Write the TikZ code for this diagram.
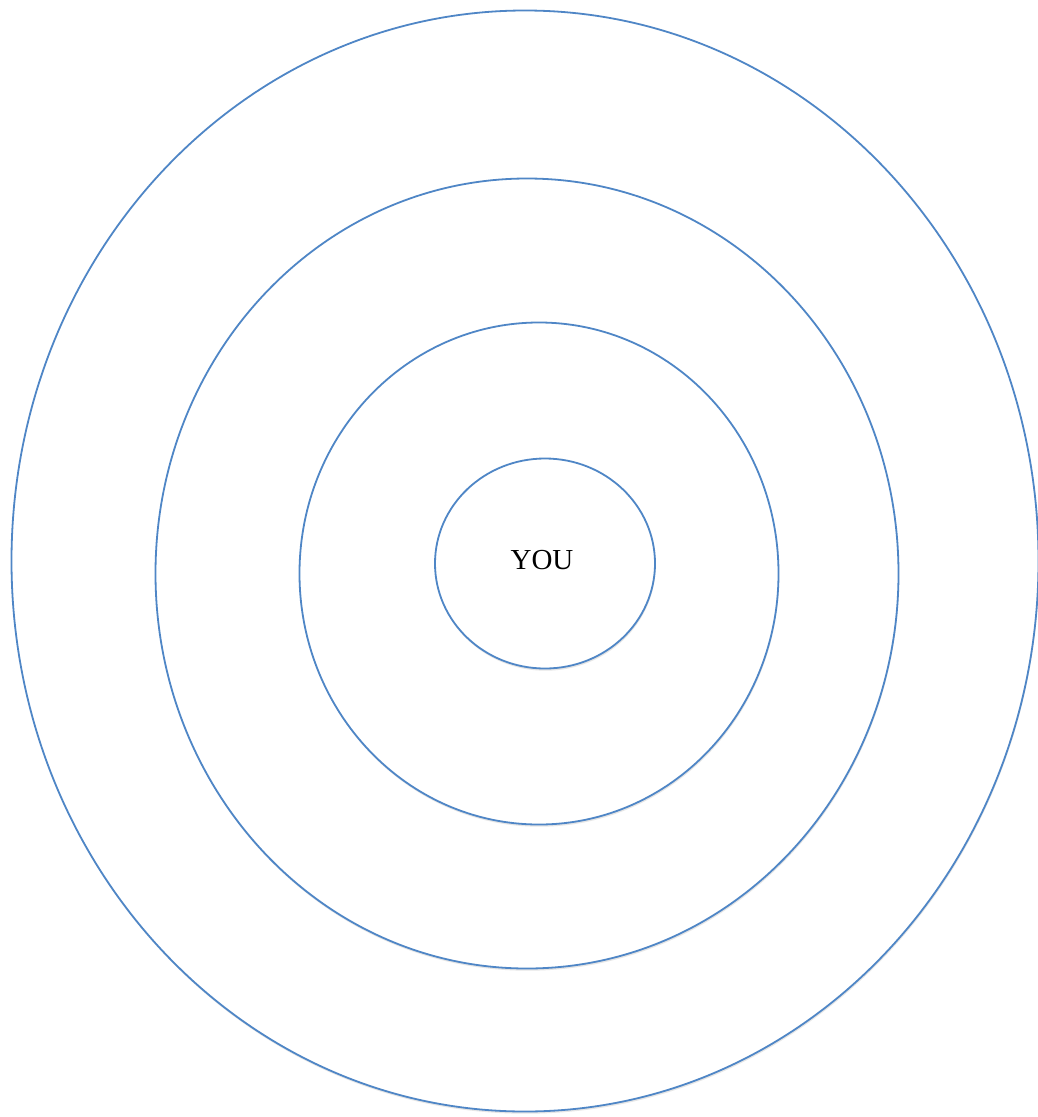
\documentclass[tikz,border=0pt]{standalone}
\usepackage{fontspec}
\setmainfont{Liberation Serif}
\usetikzlibrary{shapes.geometric,shadows}
\definecolor{RingBlue}{HTML}{4F86C6}

\begin{document}
\begin{tikzpicture}[
  x=1pt,y=-1pt,
  ring/.style={ellipse,draw=RingBlue,line width=1.8pt,fill=white,inner sep=0pt,
    drop shadow={shadow xshift=0.6pt,shadow yshift=-2.2pt,opacity=0.22,fill=black!45}},
]
\useasboundingbox (0,0) rectangle (1038,1117);
% rings, from outside in
\node[ring,minimum width=1027pt,minimum height=1101pt] (outer) at (525,561) {};
\node[ring,minimum width=743pt,minimum height=790pt] (second) at (527,573.5) {};
\node[ring,minimum width=479pt,minimum height=502pt] (third) at (539,573.5) {};
\node[ring,minimum width=220pt,minimum height=210pt,
  label={[xshift=-3pt,yshift=3.5pt,font=\fontsize{29}{32}\selectfont]center:YOU}] (you) at (545,563.5) {};
\end{tikzpicture}
\end{document}
